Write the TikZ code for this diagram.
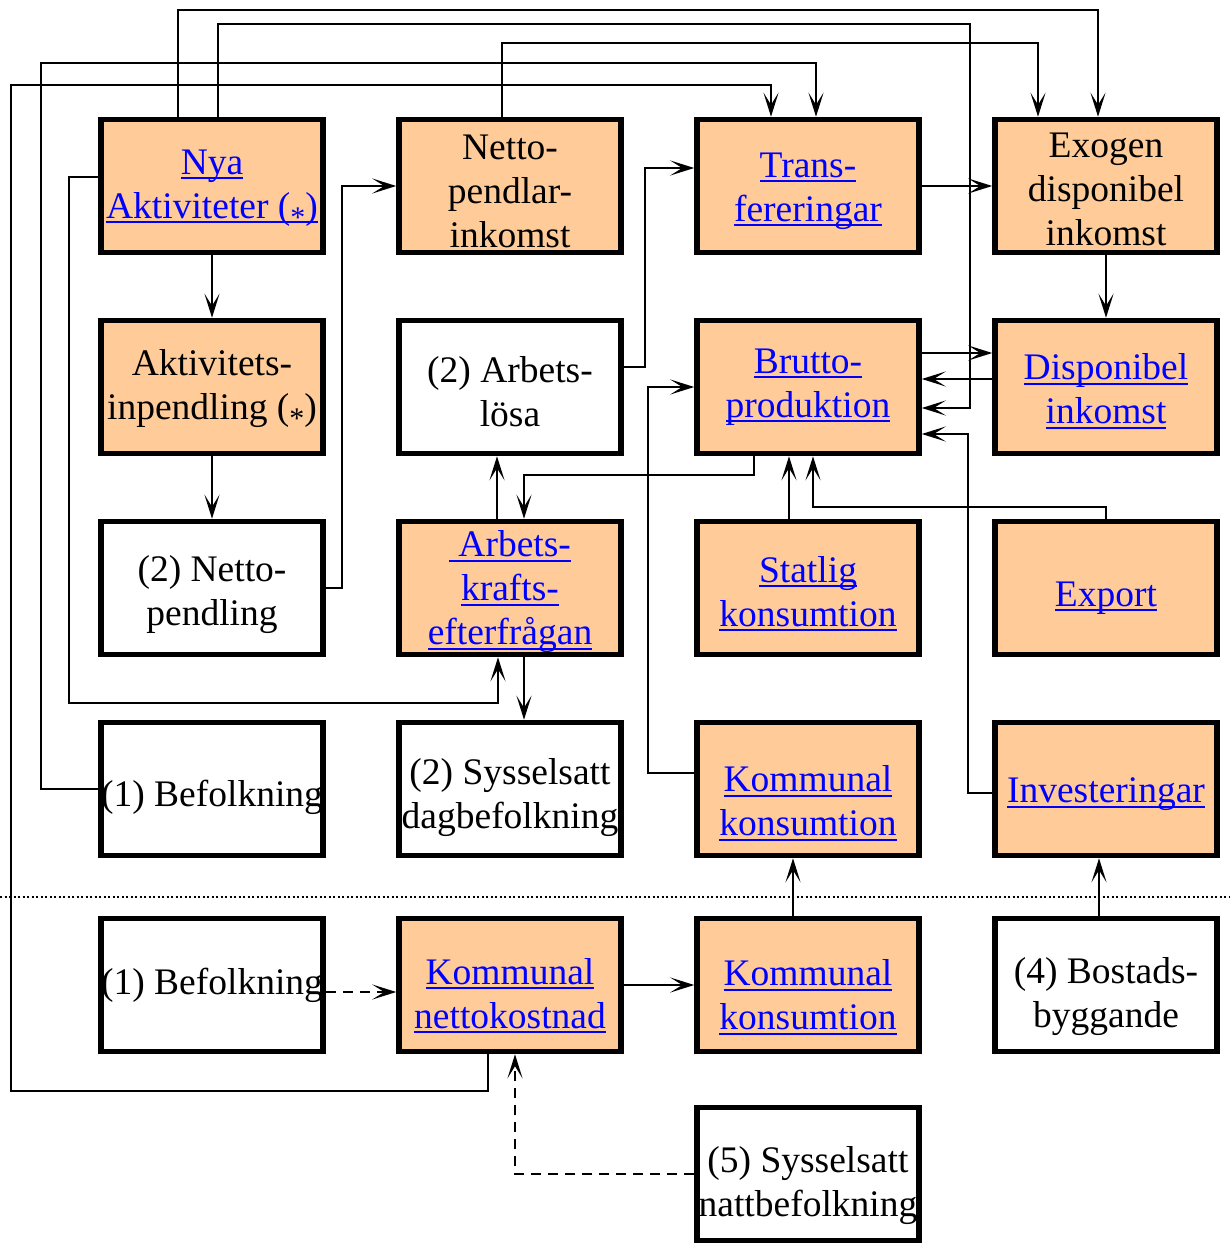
\documentclass[tikz,border=0pt]{standalone}
\usepackage{fontspec}
\setmainfont{Liberation Serif}
\usetikzlibrary{positioning, arrows.meta}
\definecolor{boxfill}{RGB}{255,204,153}
\definecolor{linkblue}{RGB}{0,0,255}
% underlined link text, rule at a fixed depth
\newcommand{\lnk}[1]{\leavevmode{\color{linkblue}\setbox0\hbox{#1}\rlap{\rule[-5pt]{\wd0}{2pt}}\box0}}
\newcommand{\stj}{\raisebox{-9pt}{\fontsize{30}{30}\selectfont *}}
\tikzset{
>={Stealth[length=24pt,width=15pt,inset=12pt]}, % long thin arrow heads
drop/.style 2 args={execute at begin node={\rule{0pt}{\dimexpr 26pt+44pt*#1+#2*2\relax}}}, % {extra lines}{how far the text goes down}
box/.style={draw, line width=5.5pt, minimum width=222pt, minimum height=133pt, inner sep=0pt, align=center, font=\fontsize{37.5}{44}\selectfont},
filled/.style={box, fill=boxfill}, % the orange boxes
link/.style={->, line width=2.8pt},
}

\begin{document}
\begin{tikzpicture}[x=1pt, y=-1pt, node distance=201pt and 298pt, on grid]
        \useasboundingbox (0,0) rectangle (1230,1246);

        \node[filled, drop={1}{2pt}] (nya) at (212,186) {\lnk{Nya}\\\lnk{Aktiviteter (\stj)}};
        \node[filled, drop={2}{5pt}, right=of nya] (npi) {Netto-\\pendlar-\\inkomst};
        \node[filled, drop={1}{4.5pt}, right=of npi] (trans) {\lnk{Trans-}\\\lnk{fereringar}};
        \node[filled, drop={2}{3pt}, right=of trans] (exogen) {Exogen\\disponibel\\inkomst};

        \node[filled, drop={1}{1.5pt}, below=of nya] (aktin) {Aktivitets-\\inpendling (\stj)};
        \node[box, drop={1}{4.5pt}, below=of npi] (arblosa) {(2) Arbets-\\lösa};
        \node[filled, below=of trans] (brutto) {\lnk{Brutto-}\\\lnk{produktion}};
        \node[filled, drop={1}{4pt}, below=of exogen] (disp) {\lnk{Disponibel}\\\lnk{inkomst}};

        \node[box, drop={1}{6.5pt}, below=of aktin] (nettopend) {(2) Netto-\\pendling};
        \node[filled, drop={2}{4pt}, below=of arblosa] (arbkraft) {\lnk{~Arbets-}\\\lnk{krafts-}\\\lnk{efterfrågan}};
        \node[filled, drop={1}{5.5pt}, below=of brutto] (statlig) {\lnk{Statlig}\\\lnk{konsumtion}};
        \node[filled, drop={0}{9pt}, below=of disp] (export) {\lnk{Export}};

        \node[box, drop={0}{9pt}, below=of nettopend] (befolk) {(1) Befolkning};
        \node[box, drop={1}{9pt}, below=of arbkraft] (dagbef) {(2) Sysselsatt\\dagbefolkning};
        \node[filled, drop={1}{14pt}, below=of statlig] (komkons) {\lnk{Kommunal}\\\lnk{konsumtion}};
        \node[filled, drop={0}{5pt}, below=of export] (invest) {\lnk{Investeringar}};

        \node[box, below=196pt of befolk] (befolk2) {(1) Befolkning};
        \node[filled, drop={1}{10.5pt}, below=196pt of dagbef] (komnetto) {\lnk{Kommunal}\\\lnk{nettokostnad}};
        \node[filled, drop={1}{12pt}, below=196pt of komkons] (komkons2) {\lnk{Kommunal}\\\lnk{konsumtion}};
        \node[box, drop={1}{12pt}, below=196pt of invest] (bostad) {(4) Bostads-\\byggande};
        \node[box, drop={1}{12pt}, below=189pt of komkons2] (nattbef) {(5) Sysselsatt\\nattbefolkning};

        % long lines over the top
        \draw[link] ([xshift=-34pt]nya.north) |- ([xshift=-8pt]exogen.north |- 0,10) -- ([xshift=-8pt]exogen.north);
        \draw[link] ([xshift=6pt]nya.north) |- (970,24) |- ([yshift=-21pt]brutto.east);
        \draw[link] ([xshift=-8pt]npi.north) |- ([xshift=-68pt]exogen.north |- 0,43) -- ([xshift=-68pt]exogen.north);
        \draw[link] (befolk.west) -| (41,63) -| ([xshift=8pt]trans.north);
        \draw[link] ([xshift=-22pt]komnetto.south) |- (11,1091) -- (11,85) -| ([xshift=-37pt]trans.north);

        \draw[link] ([yshift=9pt]nya.west) -| (69,703) -| ([xshift=-12pt]arbkraft.south);
        \draw[link] (nya) -- (aktin);
        \draw[link] (aktin) -- (nettopend);
        \draw[link] (nettopend.east) -| (342,0 |- npi.west) -- (npi.west);
        \draw[link] ([yshift=20pt]arblosa.east) -| ([yshift=18pt]trans.west -| 645,0) -- ([yshift=18pt]trans.west);
        \draw[link] (trans) -- (exogen);
        \draw[link] (exogen) -- (disp);
        \draw[link] ([yshift=34pt]brutto.east) -- ([yshift=34pt]brutto.east -| disp.west);
        \draw[link] ([yshift=8pt]disp.west) -- ([yshift=8pt]disp.west -| brutto.east);
        \draw[link] ([yshift=-4pt]invest.west) -| ([yshift=-47pt]brutto.east -| 968,0) -- ([yshift=-47pt]brutto.east);
        \draw[link] ([yshift=16pt]komkons.west) -| (648,0 |- brutto.west) -- (brutto.west);
        \draw[link] ([xshift=-54pt]brutto.south) |- ([xshift=14pt]arbkraft.north |- 0,475) -- ([xshift=14pt]arbkraft.north);
        \draw[link] ([xshift=-13pt]arbkraft.north) -- ([xshift=-13pt]arblosa.south);
        \draw[link] ([xshift=-19pt]statlig.north) -- ([xshift=-19pt]brutto.south);
        \draw[link] (export.north) |- ([xshift=5pt]brutto.south |- 0,507) -- ([xshift=5pt]brutto.south);
        \draw[link] ([xshift=14pt]arbkraft.south) -- ([xshift=14pt]dagbef.north);

        % below the dotted line
        \draw[line width=2pt, dash pattern=on 2pt off 2.5pt] (0,897) -- (1230,897);
        \draw[link, dash pattern=on 10pt off 7pt] ([yshift=-7pt]befolk2.east) -- ([yshift=-7pt]komnetto.west);
        \draw[link] (komnetto) -- (komkons2);
        \draw[link] ([xshift=-15pt]komkons2.north) -- ([xshift=-15pt]komkons.south);
        \draw[link] ([xshift=-7pt]bostad.north) -- ([xshift=-7pt]invest.south);
        \draw[link, dash pattern=on 10pt off 7pt] (nattbef.west) -| ([xshift=5pt]komnetto.south);
\end{tikzpicture}
\end{document}
